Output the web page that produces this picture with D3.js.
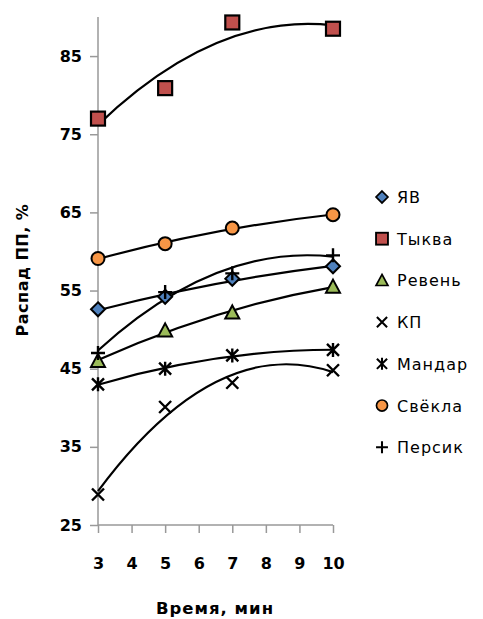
<!DOCTYPE html>
<html>
<head>
<meta charset="utf-8">
<script src="https://cdn.jsdelivr.net/npm/d3@7"></script>
<style>
  body { margin: 0; background: #fff; }
  text { font-family: "DejaVu Sans", Verdana, sans-serif; fill: #000; }
</style>
</head>
<body>
<script>
var times = [3, 5, 7, 10];
var seriesNames = ["ЯВ", "Тыква", "Ревень", "КП", "Мандар", "Свёкла", "Персик"];
var yv = [52.6, 54.2, 56.5, 58.1];
var tykva = [77, 80.9, 89.3, 88.5];
var reven = [46, 49.9, 52.2, 55.5];
var kp = [28.9, 40.1, 43.2, 44.8];
var mandar = [43, 45, 46.7, 47.4];
var svekla = [59.1, 61, 63, 64.7];
var persik = [47, 54.8, 57.2, 59.5];
var xTicks = [3, 4, 5, 6, 7, 8, 9, 10];
var yTicks = [25, 35, 45, 55, 65, 75, 85];

var width = 483, height = 619;

var svg = d3.select("body").append("svg")
  .attr("width", width)
  .attr("height", height);

var x = d3.scaleLinear().domain([3, 10]).range([98, 333]);
var y = d3.scaleLinear().domain([25, 90]).range([525, 17]);

var series = [
  { name: seriesNames[0], values: yv, shape: "diamond", fill: "#4F81BD" },
  { name: seriesNames[1], values: tykva, shape: "square", fill: "#C0504D" },
  { name: seriesNames[2], values: reven, shape: "triangle", fill: "#9BBB59" },
  { name: seriesNames[3], values: kp, shape: "x", fill: "none" },
  { name: seriesNames[4], values: mandar, shape: "star", fill: "none" },
  { name: seriesNames[5], values: svekla, shape: "circle", fill: "#F79646" },
  { name: seriesNames[6], values: persik, shape: "plus", fill: "none" }
];

// least squares quadratic fit (Excel polynomial trendline, order 2)
function quadFit(xs, ys) {
  var s = [0, 0, 0, 0, 0], t = [0, 0, 0];
  xs.forEach(function (xv, i) {
    for (var k = 0; k < 5; k++) s[k] += Math.pow(xv, k);
    for (var k = 0; k < 3; k++) t[k] += Math.pow(xv, k) * ys[i];
  });
  var m = [[s[0], s[1], s[2], t[0]], [s[1], s[2], s[3], t[1]], [s[2], s[3], s[4], t[2]]];
  for (var i = 0; i < 3; i++) {
    for (var j = i + 1; j < 3; j++) {
      var f = m[j][i] / m[i][i];
      for (var k = i; k < 4; k++) m[j][k] -= f * m[i][k];
    }
  }
  var c = [0, 0, 0];
  for (var i = 2; i >= 0; i--) {
    var v = m[i][3];
    for (var k = i + 1; k < 3; k++) v -= m[i][k] * c[k];
    c[i] = v / m[i][i];
  }
  return c; // c0 + c1 x + c2 x^2
}

// axes
var yAxis = d3.axisLeft(y).tickValues(yTicks).tickSize(8).tickPadding(8);
var gy = svg.append("g").attr("transform", "translate(98,0)").call(yAxis);
var xAxis = d3.axisBottom(x).tickValues(xTicks).tickFormat(d3.format("d"))
  .tickSize(8).tickPadding(25);
var gx = svg.append("g").attr("transform", "translate(0,525)").call(xAxis);

[gx, gy].forEach(function (g) {
  g.select(".domain").attr("stroke", "#999").attr("stroke-width", 1.5);
  g.selectAll(".tick line").attr("stroke", "#999").attr("stroke-width", 1.5);
  g.selectAll(".tick text")
    .style("font-family", "DejaVu Sans, sans-serif")
    .style("font-size", "16px")
    .style("font-weight", "bold")
    .attr("fill", "#000");
});
gy.select(".domain").attr("d", "M0," + y(90) + "V" + y(25));
gx.select(".domain").attr("d", "M" + x(3) + ",0H" + x(10));

// axis titles
svg.append("text")
  .attr("x", 215).attr("y", 614)
  .attr("text-anchor", "middle")
  .style("font-size", "16.5px").style("font-weight", "bold")
  .style("letter-spacing", "1px")
  .text("Время, мин");

svg.append("text")
  .attr("transform", "translate(28,270) rotate(-90)")
  .attr("text-anchor", "middle")
  .style("font-size", "16px").style("font-weight", "bold")
  .style("letter-spacing", "0.5px")
  .text("Распад ПП, %");

// trendlines as exact quadratic bezier
var trends = svg.append("g");
series.forEach(function (s) {
  var c = quadFit(times, s.values);
  var f = function (t) { return c[0] + c[1] * t + c[2] * t * t; };
  var x0 = 3, x2 = 10, xm = (x0 + x2) / 2;
  var slope = c[1] + 2 * c[2] * x0;
  var ym = f(x0) + slope * (xm - x0);
  trends.append("path")
    .attr("d", "M" + x(x0) + "," + y(f(x0)) +
      "Q" + x(xm) + "," + y(ym) + " " + x(x2) + "," + y(f(x2)))
    .attr("fill", "none")
    .attr("stroke", "#000")
    .attr("stroke-width", 2.2);
});

function drawMarker(g, shape, fill) {
  if (shape === "square") {
    g.append("rect").attr("x", -7).attr("y", -7).attr("width", 14).attr("height", 14)
      .attr("fill", fill).attr("stroke", "#000").attr("stroke-width", 2.2);
  } else if (shape === "diamond") {
    g.append("path").attr("d", "M0,-7L7,0L0,7L-7,0Z")
      .attr("fill", fill).attr("stroke", "#000").attr("stroke-width", 2);
  } else if (shape === "triangle") {
    g.append("path").attr("d", "M0,-7L7,6L-7,6Z")
      .attr("fill", fill).attr("stroke", "#000").attr("stroke-width", 2);
  } else if (shape === "circle") {
    g.append("circle").attr("r", 6.5)
      .attr("fill", fill).attr("stroke", "#000").attr("stroke-width", 2);
  } else if (shape === "x") {
    g.append("path").attr("d", "M-6,-6L6,6M-6,6L6,-6")
      .attr("stroke", "#000").attr("stroke-width", 2.4);
  } else if (shape === "star") {
    g.append("path").attr("d", "M-6,-6L6,6M-6,6L6,-6M0,-7V7")
      .attr("stroke", "#000").attr("stroke-width", 2.4);
  } else if (shape === "plus") {
    g.append("path").attr("d", "M-7,0H7M0,-7V7")
      .attr("stroke", "#000").attr("stroke-width", 2.4);
  }
}

// markers
series.forEach(function (s) {
  s.values.forEach(function (v, i) {
    var g = svg.append("g").attr("transform", "translate(" + x(times[i]) + "," + y(v) + ")");
    drawMarker(g, s.shape, s.fill);
  });
});

// legend
var legend = svg.append("g");
series.forEach(function (s, i) {
  var ly = 197 + i * 41.7;
  var g = legend.append("g").attr("transform", "translate(382," + ly + ")");
  drawMarker(g.append("g").attr("transform", "scale(0.85)"), s.shape, s.fill);
  g.append("text").attr("x", 15).attr("y", 6)
    .style("font-size", "16px")
    .style("letter-spacing", "1px")
    .text(s.name);
});
</script>
</body>
</html>
